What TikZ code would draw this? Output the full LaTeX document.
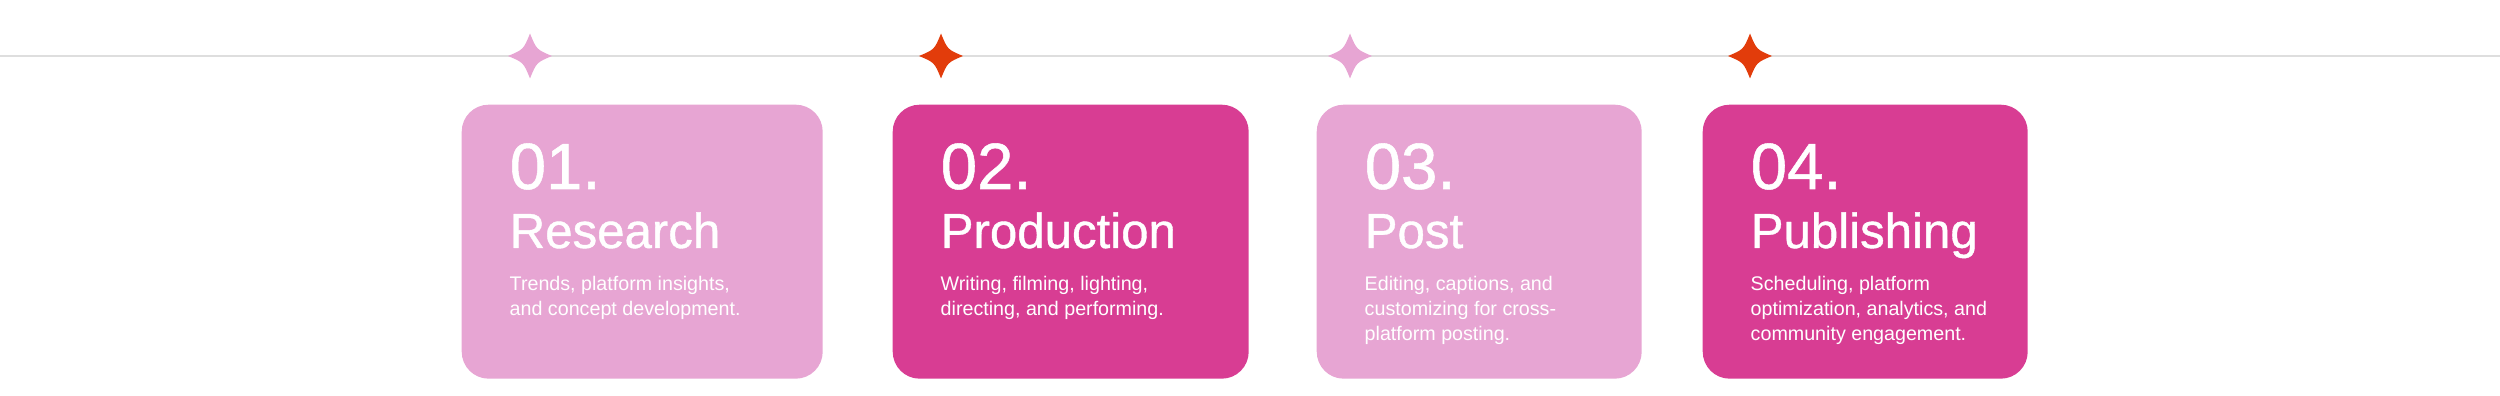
\documentclass[tikz,border=0pt]{standalone}
\usepackage{fontspec}
\setmainfont{Liberation Sans}
\newfontfamily\headfont[FakeBold=0.8]{Liberation Sans}
\definecolor{softpink}{HTML}{E7A5D3}
\definecolor{hotpink}{HTML}{D83D93}
\definecolor{sparkred}{HTML}{E23C0B}
\definecolor{rulegray}{HTML}{DEDEDE}
\tikzset{
  card/.style={rounded corners=0.27cm, minimum height=2.74cm, inner sep=0, anchor=north west},
  stepnum/.style={anchor=base west, inner sep=0, text=white, font=\headfont\fontsize{18.6}{20}\selectfont},
  steptitle/.style={anchor=base west, inner sep=0, text=white, font=\headfont\fontsize{14}{16}\selectfont},
  steptext/.style={anchor=north west, inner sep=0, text=white, align=left, font=\fontsize{5.6}{7.1}\selectfont},
  sparkle/.pic={
    \fill[#1] (0,0.225) .. controls (0.065,0.065) .. (0.22,0)
      .. controls (0.065,-0.065) .. (0,-0.225)
      .. controls (-0.065,-0.065) .. (-0.22,0)
      .. controls (-0.065,0.065) .. (0,0.225) -- cycle;
  }
}
\begin{document}
\begin{tikzpicture}
\useasboundingbox (0,0) rectangle (25,3.96);
\coordinate (ruleL) at (0,3.40);
\coordinate (ruleR) at (25,3.40);
\draw[rulegray, line width=0.6pt] (ruleL) -- (ruleR);
\foreach \i / \x / \w / \s / \c / \sc / \t / \d in {
  1/4.61/3.61/5.30/softpink/softpink/Research/{Trends, platform insights,\\and concept development.},
  2/8.92/3.56/9.41/hotpink/sparkred/Production/{Writing, filming, lighting,\\directing, and performing.},
  3/13.16/3.25/13.50/softpink/softpink/Post/{Editing, captions, and\\customizing for cross-\\platform posting.},
  4/17.02/3.25/17.50/hotpink/sparkred/Publishing/{Scheduling, platform\\optimization, analytics, and\\community engagement.}}
{
	\node[card, fill=\c, minimum width=\w cm] (card\i) at (\x, 2.92) {};
	\pic at (\s, 3.40) {sparkle=\sc};
	\node[stepnum] (num\i) at (\x+0.48, 2.07) {0\i.};
	\node[steptitle] (title\i) at (\x+0.48, 1.48) {\t};
	\node[steptext] (text\i) at (\x+0.48, 1.20) {\d};
}
\end{tikzpicture}
\end{document}
